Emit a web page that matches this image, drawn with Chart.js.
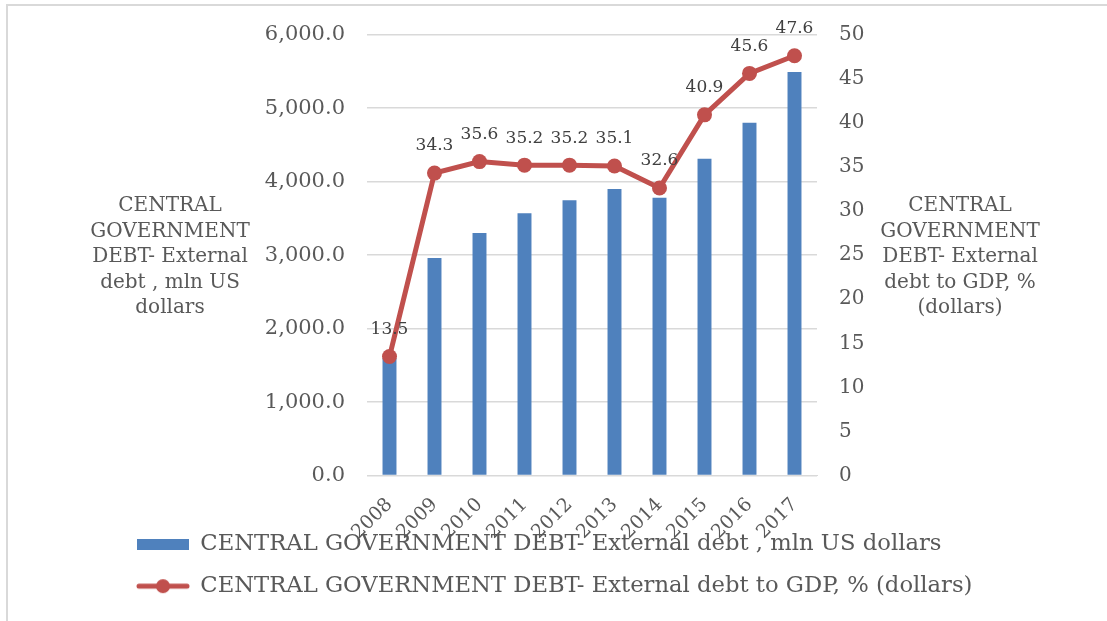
<!DOCTYPE html>
<html>
<head>
<meta charset="utf-8">
<script src="https://cdn.jsdelivr.net/npm/chart.js@4.4.0/dist/chart.umd.min.js"></script>
<style>
  html, body { margin: 0; padding: 0; background: #fff; overflow: hidden; }
  #wrap { position: relative; width: 1107px; height: 621px; }
  #frame { position: absolute; left: 6px; top: 4px; width: 1200px; height: 700px; border: 2px solid #d9d9d9; }
  canvas { position: absolute; left: 0; top: 0; }
</style>
</head>
<body>
<div id="wrap">
  <div id="frame"></div>
  <canvas id="chartDebt" width="1107" height="621"></canvas>
</div>
<script>
// data
const years = ['2008', '2009', '2010', '2011', '2012', '2013', '2014', '2015', '2016', '2017'];
const externalDebt = [1600, 2960, 3300, 3570, 3745, 3900, 3780, 4310, 4800, 5490];
const debtToGdp = [13.5, 34.3, 35.6, 35.2, 35.2, 35.1, 32.6, 40.9, 45.6, 47.6];

const barLabel = 'CENTRAL GOVERNMENT DEBT- External debt , mln US dollars';
const lineLabel = 'CENTRAL GOVERNMENT DEBT- External debt to GDP, % (dollars)';
const leftTitle = ['CENTRAL', 'GOVERNMENT', 'DEBT- External', 'debt , mln US', 'dollars'];
const rightTitle = ['CENTRAL', 'GOVERNMENT', 'DEBT- External', 'debt to GDP, %', '(dollars)'];

const FONT = "'DejaVu Serif', serif";
const BLUE = '#4f81bd';
const RED = '#c0504d';
const GREY = '#595959';

// legend icon for the line series: line with a dot
const lineIcon = document.createElement('canvas');
lineIcon.width = 54;
lineIcon.height = 16;
(function () {
    const c = lineIcon.getContext('2d');
    c.strokeStyle = RED;
    c.lineWidth = 5;
    c.lineCap = 'round';
    c.beginPath();
    c.moveTo(3, 8);
    c.lineTo(51, 8);
    c.stroke();
    c.fillStyle = RED;
    c.beginPath();
    c.arc(27, 8, 7, 0, Math.PI * 2);
    c.fill();
})();

// axis titles written horizontally + value labels over the line
const extras = {
    id: 'extras',
    afterLayout(chart) {
        // year labels run down into the legend, like the original
        chart.scales.x.bottom = chart.height;
    },
    afterDatasetsDraw(chart) {
        const ctx = chart.ctx;
        const meta = chart.getDatasetMeta(1);
        ctx.save();
        ctx.font = '17px ' + FONT;
        ctx.fillStyle = '#404040';
        ctx.textAlign = 'center';
        ctx.textBaseline = 'middle';
        meta.data.forEach((pt, i) => {
            ctx.fillText(debtToGdp[i].toFixed(1), pt.x, pt.y - 27);
        });
        ctx.restore();
    },
    afterDraw(chart) {
        const ctx = chart.ctx;
        const area = chart.chartArea;
        const midY = (area.top + area.bottom) / 2 + 2;
        const lh = 25.5;
        ctx.save();
        ctx.font = '20px ' + FONT;
        ctx.fillStyle = GREY;
        ctx.textAlign = 'center';
        ctx.textBaseline = 'middle';
        leftTitle.forEach((t, i) => {
            ctx.fillText(t, 170, midY + (i - 2) * lh);
        });
        rightTitle.forEach((t, i) => {
            ctx.fillText(t, 960, midY + (i - 2) * lh);
        });
        ctx.restore();
    }
};

new Chart(document.getElementById('chartDebt'), {
    type: 'bar',
    data: {
        labels: years,
        datasets: [{
            type: 'bar',
            label: barLabel,
            data: externalDebt,
            backgroundColor: BLUE,
            yAxisID: 'y',
            order: 2,
            barPercentage: 0.31,
            categoryPercentage: 1
        }, {
            type: 'line',
            label: lineLabel,
            data: debtToGdp,
            borderColor: RED,
            backgroundColor: RED,
            borderWidth: 5,
            pointRadius: 7.5,
            pointHoverRadius: 7.5,
            pointBackgroundColor: RED,
            pointBorderWidth: 0,
            tension: 0,
            yAxisID: 'y1',
            order: 1
        }]
    },
    options: {
        responsive: false,
        animation: false,
        layout: { padding: { left: 118, right: 0, top: 33, bottom: 13.5 } },
        plugins: {
            tooltip: { enabled: false },
            legend: {
                position: 'bottom',
                align: 'start',
                labels: {
                    font: { family: FONT, size: 22.7 },
                    color: GREY,
                    padding: 19,
                    usePointStyle: true,
                    pointStyleWidth: 52,
                    boxHeight: 11,
                    sort: (a, b) => a.datasetIndex - b.datasetIndex,
                    generateLabels(chart) {
                        const items = Chart.defaults.plugins.legend.labels.generateLabels(chart);
                        items.forEach(it => {
                            if (it.datasetIndex === 1) {
                                it.pointStyle = lineIcon;
                            } else {
                                it.pointStyle = 'rect';
                                it.lineWidth = 0;
                            }
                        });
                        return items;
                    }
                }
            }
        },
        scales: {
            x: {
                grid: { display: false, drawTicks: false },
                border: { display: true, color: '#d9d9d9' },
                ticks: {
                    font: { family: FONT, size: 19 },
                    color: GREY,
                    minRotation: 45,
                    maxRotation: 45,
                    padding: 18
                },
                afterFit(s) { s.height = 38.5; }
            },
            y: {
                position: 'left',
                min: 0,
                max: 6000,
                grid: { color: '#d9d9d9', lineWidth: 1.5, drawTicks: false },
                border: { display: false },
                ticks: {
                    stepSize: 1000,
                    padding: 22,
                    font: { family: FONT, size: 21 },
                    color: GREY,
                    callback: v => v.toLocaleString('en-US', { minimumFractionDigits: 1, maximumFractionDigits: 1 })
                },
                afterFit(s) { s.width = 249; }
            },
            y1: {
                position: 'right',
                min: 0,
                max: 50,
                grid: { drawOnChartArea: false, drawTicks: false },
                border: { display: false },
                ticks: {
                    stepSize: 5,
                    padding: 22,
                    font: { family: FONT, size: 20 },
                    color: GREY
                },
                afterFit(s) { s.width = 290; }
            }
        }
    },
    plugins: [extras]
});
</script>
</body>
</html>
